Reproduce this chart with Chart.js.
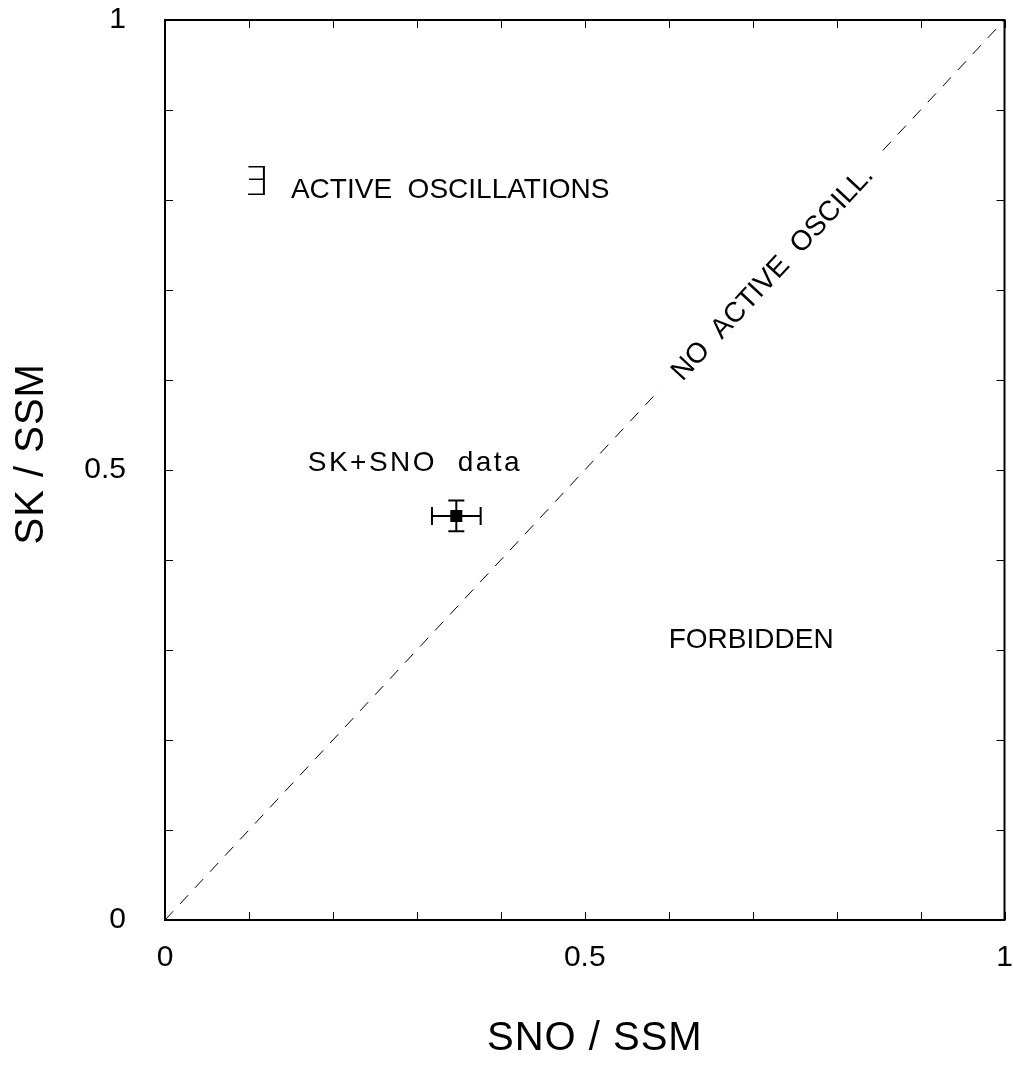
<!DOCTYPE html>
<html>
<head>
<meta charset="utf-8">
<script src="https://cdn.jsdelivr.net/npm/chart.js@4.4.1/dist/chart.umd.min.js"></script>
<style>
  html, body { margin: 0; padding: 0; background: #fff; }
  #wrap { width: 1013px; height: 1067px; }
</style>
</head>
<body>
<div id="wrap"><canvas id="myChart"></canvas></div>
<script>
// measured point: SNO/SSM vs SK/SSM
const snoRatio = [0.347];
const skRatio = [0.449];
const snoErr = [0.029];
const skErr = [0.017];

// diagonal "no active oscillations" line, broken where its label sits
const diagX = [0, 0.59, null, 0.855, 1];
const diagY = [0, 0.59, null, 0.855, 1];

const axisTicks = [0, 0.1, 0.2, 0.3, 0.4, 0.5, 0.6, 0.7, 0.8, 0.9, 1];
const labelledTicks = [0, 0.5, 1];

const xTitle = "SNO / SSM";
const yTitle = "SK / SSM";

const FONT = "'Liberation Sans', Arial, sans-serif";

const notes = [
  { text: "\u2203", x: 0.108, y: 0.817, size: 40, align: "center", rot: 0, sp: 0, font: "200 40px 'DejaVu Sans', sans-serif" },
  { text: "ACTIVE  OSCILLATIONS", x: 0.15, y: 0.811, size: 28, align: "left", rot: 0, sp: 0 },
  { text: "SK+SNO  data", x: 0.17, y: 0.508, size: 28, align: "left", rot: 0, sp: 2.5 },
  { text: "FORBIDDEN", x: 0.6, y: 0.311, size: 28, align: "left", rot: 0, sp: 0 },
  { text: "NO  ACTIVE  OSCILL.", x: 0.724, y: 0.718, size: 28, align: "center", rot: "diag", sp: 0 },
];

const isLabelled = (v) => labelledTicks.some((t) => Math.abs(t - v) < 1e-6);

const frame = {
  id: "frame",
  afterDatasetsDraw(chart) {
    const { ctx, chartArea: a, scales } = chart;
    const xs = scales.x, ys = scales.y;
    ctx.save();
    // box
    ctx.strokeStyle = "#000";
    ctx.lineWidth = 2;
    ctx.strokeRect(a.left, a.top, a.right - a.left, a.bottom - a.top);
    // inside ticks on all four sides
    ctx.lineWidth = 1;
    ctx.beginPath();
    axisTicks.forEach((v) => {
      const px = Math.round(xs.getPixelForValue(v)) + 0.5;
      const py = Math.round(ys.getPixelForValue(v)) + 0.5;
      ctx.moveTo(px, a.bottom); ctx.lineTo(px, a.bottom - 8);
      ctx.moveTo(px, a.top); ctx.lineTo(px, a.top + 8);
      ctx.moveTo(a.left, py); ctx.lineTo(a.left + 8, py);
      ctx.moveTo(a.right, py); ctx.lineTo(a.right - 8, py);
    });
    ctx.stroke();

    // error bars
    ctx.lineWidth = 2;
    ctx.beginPath();
    snoRatio.forEach((x, i) => {
      const y = skRatio[i];
      const cx = xs.getPixelForValue(x), cy = ys.getPixelForValue(y);
      const x0 = xs.getPixelForValue(x - snoErr[i]), x1 = xs.getPixelForValue(x + snoErr[i]);
      const y0 = ys.getPixelForValue(y - skErr[i]), y1 = ys.getPixelForValue(y + skErr[i]);
      ctx.moveTo(x0, cy); ctx.lineTo(x1, cy);
      ctx.moveTo(x0, cy - 9); ctx.lineTo(x0, cy + 9);
      ctx.moveTo(x1, cy - 9); ctx.lineTo(x1, cy + 9);
      ctx.moveTo(cx, y0); ctx.lineTo(cx, y1);
      ctx.moveTo(cx - 8, y0); ctx.lineTo(cx + 8, y0);
      ctx.moveTo(cx - 8, y1); ctx.lineTo(cx + 8, y1);
    });
    ctx.stroke();

    // annotations
    ctx.fillStyle = "#000";
    ctx.textBaseline = "middle";
    const ang = -Math.atan2(a.bottom - a.top, a.right - a.left);
    notes.forEach((n) => {
      ctx.save();
      ctx.translate(xs.getPixelForValue(n.x), ys.getPixelForValue(n.y));
      if (n.rot === "diag") ctx.rotate(ang);
      ctx.font = n.font || n.size + "px " + FONT;
      ctx.letterSpacing = n.sp + "px";
      ctx.textAlign = n.align;
      ctx.fillText(n.text, 0, 0);
      ctx.restore();
    });

    // axis titles
    ctx.font = "40px " + FONT;
    ctx.textAlign = "center";
    ctx.letterSpacing = "1px";
    ctx.fillText(xTitle, xs.getPixelForValue(0.512), 1039);
    ctx.save();
    ctx.translate(32, ys.getPixelForValue(0.518));
    ctx.rotate(-Math.PI / 2);
    ctx.fillText(yTitle, 0, 0);
    ctx.restore();
    ctx.restore();
  },
};

const chart = new Chart(document.querySelector("#myChart"), {
  type: "scatter",
  data: {
    datasets: [
      {
        label: "diagonal",
        type: "line",
        data: diagX.map((x, i) => (x === null ? { x: null, y: null } : { x, y: diagY[i] })),
        borderColor: "#000",
        borderWidth: 1,
        borderDash: [12, 10],
        pointRadius: 0,
        spanGaps: false,
        fill: false,
      },
      {
        label: "SK+SNO data",
        data: snoRatio.map((x, i) => ({ x, y: skRatio[i] })),
        pointStyle: "rect",
        pointRadius: 8.5,
        backgroundColor: "#000",
        borderColor: "#000",
        borderWidth: 0,
      },
    ],
  },
  options: {
    responsive: true,
    maintainAspectRatio: false,
    animation: false,
    layout: { padding: { top: 20, right: 8, left: 0, bottom: 0 } },
    plugins: { legend: { display: false }, tooltip: { enabled: false } },
    scales: {
      x: {
        type: "linear",
        min: 0,
        max: 1,
        grid: { display: false },
        border: { display: false },
        afterFit(scale) {
          scale.height = 147;
          scale.paddingLeft = 0;
          scale.paddingRight = 0;
        },
        afterBuildTicks(scale) { scale.ticks = axisTicks.map((value) => ({ value })); },
        ticks: {
          autoSkip: false,
          maxRotation: 0,
          padding: 12,
          color: "#000",
          font: { family: FONT, size: 30 },
          callback: (v) => (isLabelled(v) ? String(v) : ""),
        },
      },
      y: {
        type: "linear",
        min: 0,
        max: 1,
        grid: { display: false },
        border: { display: false },
        afterFit(scale) {
          scale.width = 165;
          scale.paddingTop = 0;
          scale.paddingBottom = 0;
        },
        afterBuildTicks(scale) { scale.ticks = axisTicks.map((value) => ({ value })); },
        ticks: {
          autoSkip: false,
          padding: 31,
          color: "#000",
          font: { family: FONT, size: 30 },
          callback: (v) => (isLabelled(v) ? String(v) : ""),
        },
      },
    },
  },
  plugins: [frame],
});
</script>
</body>
</html>
